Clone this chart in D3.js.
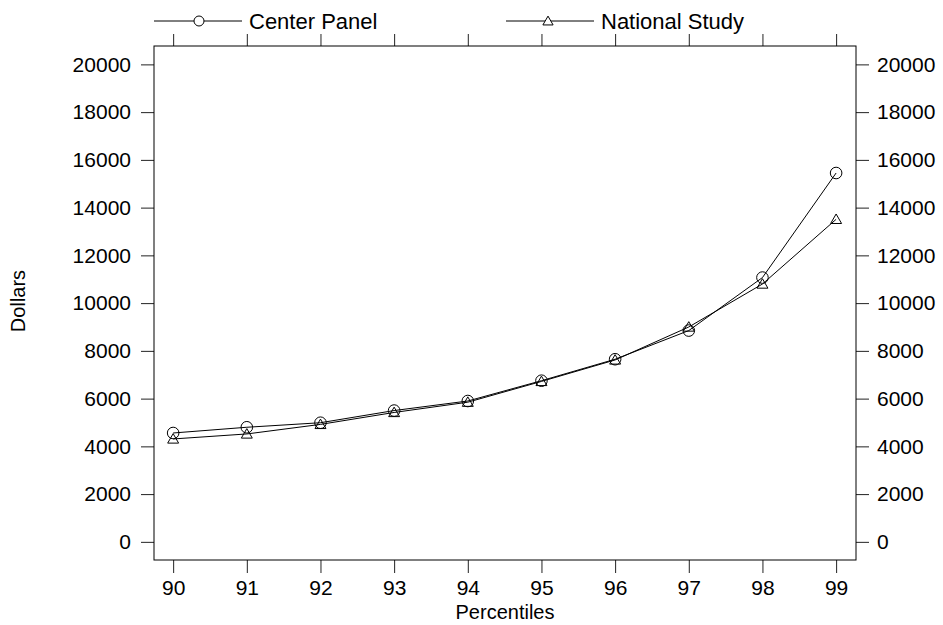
<!DOCTYPE html>
<html>
<head>
<meta charset="utf-8">
<script src="https://cdn.jsdelivr.net/npm/d3@7"></script>
<style>
  body { margin: 0; background: #fff; }
  text { font-family: "Liberation Sans", Arial, sans-serif; fill: #000; }
</style>
</head>
<body>
<div id="chart"></div>
<script>
"use strict";

// data
var percentiles = [90, 91, 92, 93, 94, 95, 96, 97, 98, 99];
var centerPanel = [4560, 4800, 4990, 5500, 5900, 6750, 7650, 8850, 11070, 15450];
var nationalStudy = [4310, 4520, 4920, 5420, 5850, 6720, 7620, 9000, 10800, 13510];
var yTicks = [0, 2000, 4000, 6000, 8000, 10000, 12000, 14000, 16000, 18000, 20000];
var seriesNames = ["Center Panel", "National Study"];

var W = 943, H = 625;
var margin = {top: 46, right: 87, bottom: 65, left: 154};
var width = W - margin.left - margin.right,
    height = H - margin.top - margin.bottom;

var svg = d3.select("#chart").append("svg")
  .attr("width", W)
  .attr("height", H);

var g = svg.append("g")
  .attr("transform", "translate(" + margin.left + "," + margin.top + ")");

var x = d3.scaleLinear().domain([89.74, 99.27]).range([0, width]);
var y = d3.scaleLinear().domain([-760, 20770]).range([height, 0]);

// axes, lattice style: ticks pointing outward
function styleAxis(sel) {
  sel.select(".domain").remove();
  sel.selectAll(".tick line").attr("stroke", "#222");
  sel.selectAll(".tick text").style("font-size", "21px");
}

g.append("g")
  .attr("transform", "translate(0," + height + ")")
  .call(d3.axisBottom(x).tickValues(percentiles).tickSize(13).tickPadding(7).tickFormat(d3.format("d")))
  .call(styleAxis);

g.append("g")
  .call(d3.axisTop(x).tickValues(percentiles).tickSize(12).tickFormat(""))
  .call(styleAxis);

g.append("g")
  .call(d3.axisLeft(y).tickValues(yTicks).tickSize(13).tickPadding(10).tickFormat(d3.format("d")))
  .call(styleAxis);

g.append("g")
  .attr("transform", "translate(" + width + ",0)")
  .call(d3.axisRight(y).tickValues(yTicks).tickSize(13).tickPadding(8).tickFormat(d3.format("d")))
  .call(styleAxis);

// frame
g.append("rect")
  .attr("width", width)
  .attr("height", height)
  .attr("fill", "none")
  .attr("stroke", "#000")
  .attr("stroke-width", 1);

var line = d3.line()
  .x(function(d, i) { return x(percentiles[i]); })
  .y(function(d) { return y(d); });

var triangle = d3.symbol().type(d3.symbolTriangle).size(52);

function drawSeries(vals, marker) {
  g.append("path")
    .datum(vals)
    .attr("d", line)
    .attr("fill", "none")
    .attr("stroke", "#000")
    .attr("stroke-width", 1);

  if (marker === "circle") {
    g.selectAll(null).data(vals).enter().append("circle")
      .attr("cx", function(d, i) { return x(percentiles[i]); })
      .attr("cy", function(d) { return y(d); })
      .attr("r", 5.8)
      .attr("fill", "none")
      .attr("stroke", "#000");
  } else {
    g.selectAll(null).data(vals).enter().append("path")
      .attr("d", triangle)
      .attr("transform", function(d, i) { return "translate(" + x(percentiles[i]) + "," + (y(d) + 1) + ")"; })
      .attr("fill", "none")
      .attr("stroke", "#000");
  }
}

drawSeries(centerPanel, "circle");
drawSeries(nationalStudy, "triangle");

// legend on top
var legend = svg.append("g");
var legendItems = [
  {name: seriesNames[0], x0: 154, marker: "circle"},
  {name: seriesNames[1], x0: 506, marker: "triangle"}
];
legendItems.forEach(function(it) {
  var ly = 21;
  legend.append("line")
    .attr("x1", it.x0).attr("x2", it.x0 + 88)
    .attr("y1", ly).attr("y2", ly)
    .attr("stroke", "#000");
  if (it.marker === "circle") {
    legend.append("circle")
      .attr("cx", it.x0 + 45).attr("cy", ly).attr("r", 5)
      .attr("fill", "#fff").attr("stroke", "#000");
  } else {
    legend.append("path")
      .attr("d", d3.symbol().type(d3.symbolTriangle).size(45))
      .attr("transform", "translate(" + (it.x0 + 42) + "," + (ly + 1) + ")")
      .attr("fill", "#fff").attr("stroke", "#000");
  }
  legend.append("text")
    .attr("x", it.x0 + 95)
    .attr("y", ly + 8)
    .style("font-size", "22px")
    .text(it.name);
});

// axis titles
svg.append("text")
  .attr("x", margin.left + width / 2)
  .attr("y", 619)
  .attr("text-anchor", "middle")
  .style("font-size", "20px")
  .text("Percentiles");

svg.append("text")
  .attr("transform", "translate(25,301) rotate(-90)")
  .attr("text-anchor", "middle")
  .style("font-size", "20px")
  .text("Dollars");
</script>
</body>
</html>
